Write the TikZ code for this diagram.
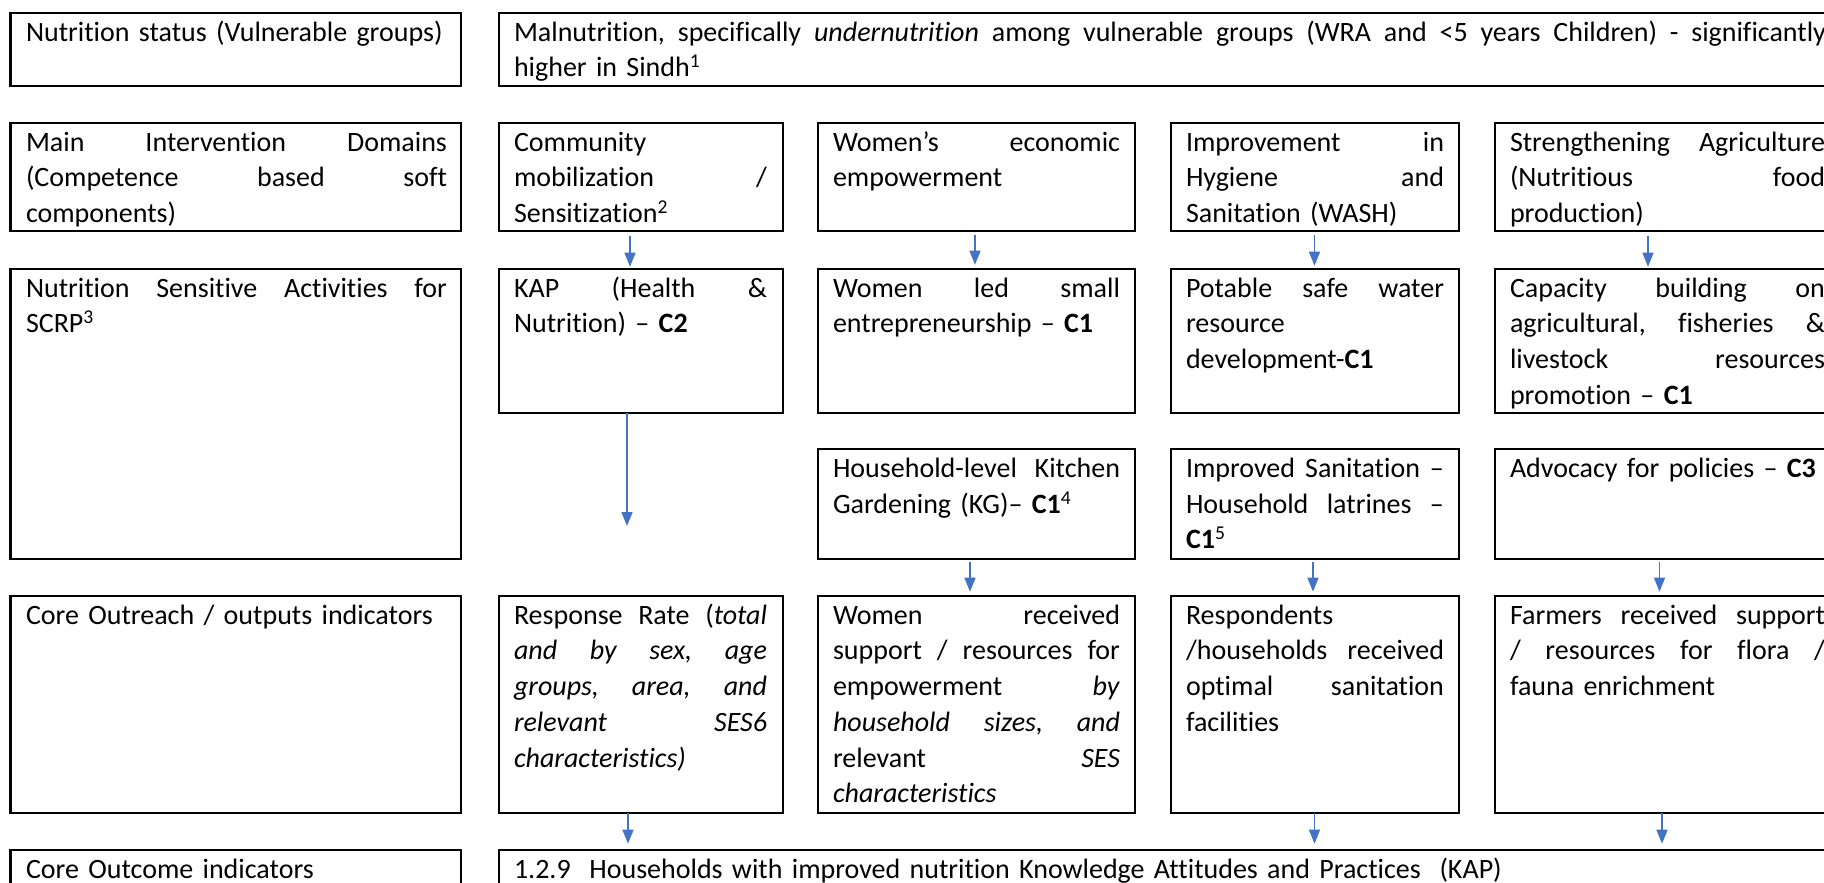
\documentclass[tikz,border=0pt]{standalone}
\usepackage{fontspec}
\setmainfont{Carlito}[Ligatures=NoCommon]
\usetikzlibrary{arrows.meta,calc}
\definecolor{arrowblue}{HTML}{4472C4}
% one justified line, spaces stretched to the full text width
\newcommand\jl[1]{{\spaceskip=0pt\xspaceskip=0pt\makebox[\linewidth][s]{#1}}}
\frenchspacing

\begin{document}
\begin{tikzpicture}[x=1pt,y=-1pt,
  cellbox/.style={draw, line width=2.3pt, inner sep=0pt, outer sep=0pt, anchor=north west},
  celltext/.style={anchor=base west, inner sep=0pt, outer sep=0pt,
    font=\fontsize{28pt}{35.7pt}\selectfont},
  flow/.style={draw=arrowblue, line width=1.4pt, -{Triangle[length=14pt,width=11pt]}}]

\useasboundingbox (0,0) rectangle (1824,883);
\clip (0,0) rectangle (1824,883);

% ---------- boxes ----------
% row 1
\node[cellbox, minimum width=450.5pt, minimum height=73.3pt] (stat) at (10.5,12.7) {};
\node[cellbox, minimum width=1341pt, minimum height=73.3pt] (malnut) at (499,12.7) {};
% row 2
\node[cellbox, minimum width=450.5pt, minimum height=108pt] (dom) at (10.5,122.7) {};
\node[cellbox, minimum width=284pt, minimum height=108pt] (mob) at (499,122.7) {};
\node[cellbox, minimum width=317pt, minimum height=108pt] (wee) at (818,122.7) {};
\node[cellbox, minimum width=288pt, minimum height=108pt] (wash) at (1171,122.7) {};
\node[cellbox, minimum width=345pt, minimum height=108pt] (agri) at (1495,122.7) {};
% row 3
\node[cellbox, minimum width=450.5pt, minimum height=290.3pt] (nsa) at (10.5,268.7) {};
\node[cellbox, minimum width=284pt, minimum height=144pt] (kap) at (499,268.7) {};
\node[cellbox, minimum width=317pt, minimum height=144pt] (ent) at (818,268.7) {};
\node[cellbox, minimum width=288pt, minimum height=144pt] (water) at (1171,268.7) {};
\node[cellbox, minimum width=345pt, minimum height=144pt] (cap) at (1495,268.7) {};
% row 3, second tier
\node[cellbox, minimum width=317pt, minimum height=110pt] (kg) at (818,449) {};
\node[cellbox, minimum width=288pt, minimum height=110pt] (lat) at (1171,449) {};
\node[cellbox, minimum width=345pt, minimum height=110pt] (adv) at (1495,449) {};
% row 4
\node[cellbox, minimum width=450.5pt, minimum height=217.3pt] (out) at (10.5,595.7) {};
\node[cellbox, minimum width=284pt, minimum height=217.3pt] (resp) at (499,595.7) {};
\node[cellbox, minimum width=317pt, minimum height=217.3pt] (womsup) at (818,595.7) {};
\node[cellbox, minimum width=288pt, minimum height=217.3pt] (sanit) at (1171,595.7) {};
\node[cellbox, minimum width=345pt, minimum height=217.3pt] (farm) at (1495,595.7) {};
% row 5
\node[cellbox, minimum width=450.5pt, minimum height=60pt] (outc) at (10.5,849.7) {};
\node[cellbox, minimum width=1341pt, minimum height=60pt] (kapout) at (499,849.7) {};

% ---------- texts ----------
\node[celltext, text width=421pt] (stat-t) at ($(stat.north west)+(15.5,28.5)$)
  {Nutrition status (Vulnerable groups)};
\node[celltext, text width=1312pt] (malnut-t) at ($(malnut.north west)+(15,28.5)$)
  {\jl{Malnutrition, specifically \textit{undernutrition} among vulnerable groups (WRA and <5 years Children) - significantly}\\
   higher in Sindh\textsuperscript{1}};

\node[celltext, text width=421pt] (dom-t) at ($(dom.north west)+(15.5,28.5)$)
  {\jl{Main Intervention Domains}\\ \jl{(Competence based soft}\\ components)};
\node[celltext, text width=253pt] (mob-t) at ($(mob.north west)+(15,28.5)$)
  {Community\\ \jl{mobilization /}\\ Sensitization\textsuperscript{2}};
\node[celltext, text width=287pt] (wee-t) at ($(wee.north west)+(15,28.5)$)
  {\jl{Women’s economic}\\ empowerment};
\node[celltext, text width=258pt] (wash-t) at ($(wash.north west)+(15,28.5)$)
  {\jl{Improvement in}\\ \jl{Hygiene and}\\ Sanitation (WASH)};
\node[celltext, text width=315pt] (agri-t) at ($(agri.north west)+(15,28.5)$)
  {\jl{Strengthening Agriculture}\\ \jl{(Nutritious food}\\ production)};

\node[celltext, text width=421pt] (nsa-t) at ($(nsa.north west)+(15.5,28.5)$)
  {\jl{Nutrition Sensitive Activities for}\\ SCRP\textsuperscript{3}};
\node[celltext, text width=253pt] (kap-t) at ($(kap.north west)+(15,28.5)$)
  {\jl{KAP (Health \&}\\ Nutrition) – \textbf{C2}};
\node[celltext, text width=287pt] (ent-t) at ($(ent.north west)+(15,28.5)$)
  {\jl{Women led small}\\ entrepreneurship – \textbf{C1}};
\node[celltext, text width=258pt] (water-t) at ($(water.north west)+(15,28.5)$)
  {\jl{Potable safe water}\\ resource\\ development-\textbf{C1}};
\node[celltext, text width=315pt] (cap-t) at ($(cap.north west)+(15,28.5)$)
  {\jl{Capacity building on}\\ \jl{agricultural, fisheries \&}\\ \jl{livestock resources}\\ promotion – \textbf{C1}};

\node[celltext, text width=287pt] (kg-t) at ($(kg.north west)+(15,28.5)$)
  {\jl{Household-level Kitchen}\\ Gardening (KG)– \textbf{C1}\textsuperscript{4}};
\node[celltext, text width=258pt] (lat-t) at ($(lat.north west)+(15,28.5)$)
  {\jl{Improved Sanitation –}\\ \jl{Household latrines –}\\ \textbf{C1}\textsuperscript{5}};
\node[celltext, text width=315pt] (adv-t) at ($(adv.north west)+(15,28.5)$)
  {Advocacy for policies – \textbf{C3}};

\node[celltext, text width=421pt] (out-t) at ($(out.north west)+(15.5,28.5)$)
  {Core Outreach / outputs indicators};
\node[celltext, text width=253pt] (resp-t) at ($(resp.north west)+(15,28.5)$)
  {\jl{Response Rate (\textit{total}}\\ \jl{\textit{and by sex, age}}\\ \jl{\textit{groups, area, and}}\\
   \jl{\textit{relevant SES6}}\\ \textit{characteristics)}};
\node[celltext, text width=287pt] (womsup-t) at ($(womsup.north west)+(15,28.5)$)
  {\jl{Women received}\\ \jl{support / resources for}\\ \jl{empowerment \textit{by}}\\
   \jl{\textit{household sizes, and}}\\ \jl{relevant \textit{SES}}\\ \textit{characteristics}};
\node[celltext, text width=258pt] (sanit-t) at ($(sanit.north west)+(15,28.5)$)
  {Respondents\\ \jl{/households received}\\ \jl{optimal sanitation}\\ facilities};
\node[celltext, text width=315pt] (farm-t) at ($(farm.north west)+(15,28.5)$)
  {\jl{Farmers received support}\\ \jl{/ resources for flora /}\\ fauna enrichment};

\node[celltext, text width=421pt] (outc-t) at ($(outc.north west)+(15.5,28.5)$)
  {Core Outcome indicators};
\node[celltext, text width=1312pt] (kapout-t) at ($(kapout.north west)+(15,28.5)$)
  {1.2.9\ \ Households with improved nutrition Knowledge Attitudes and Practices\ \ (KAP)};

% ---------- connectors ----------
% domains to activities
\draw[flow, shorten <=5pt, shorten >=2pt] ([xshift=-11pt]mob.south) -- ([xshift=-11pt]kap.north);
\draw[flow, shorten <=4pt, shorten >=4pt] ([xshift=-1.5pt]wee.south) -- ([xshift=-1.5pt]ent.north);
\draw[flow, shorten <=4pt, shorten >=3pt] ([xshift=-0.5pt]wash.south) -- ([xshift=-0.5pt]water.north);
\draw[flow, shorten <=5pt, shorten >=2pt] ([xshift=-19.5pt]agri.south) -- ([xshift=-19.5pt]cap.north);
% activities to outputs
\coordinate (kapend) at ($(kap.south)+(-14,113.3)$);
\draw[flow] ([xshift=-14pt]kap.south) -- (kapend);
\draw[flow, shorten <=3pt, shorten >=4pt] ([xshift=-6.5pt]kg.south) -- ([xshift=-6.5pt]womsup.north);
\draw[flow, shorten <=3pt, shorten >=4pt] ([xshift=-2pt]lat.south) -- ([xshift=-2pt]sanit.north);
\draw[flow, shorten <=3pt, shorten >=4pt] ([xshift=-8pt]adv.south) -- ([xshift=-8pt]farm.north);
% outputs to outcome
\draw[flow, shorten >=6pt] ([xshift=-13pt]resp.south) coordinate (o1) -- (o1 |- kapout.north);
\draw[flow, shorten >=6pt] ([xshift=-0.5pt]sanit.south) coordinate (o3) -- (o3 |- kapout.north);
\draw[flow, shorten >=6pt] ([xshift=-5.5pt]farm.south) coordinate (o4) -- (o4 |- kapout.north);
\end{tikzpicture}
\end{document}
